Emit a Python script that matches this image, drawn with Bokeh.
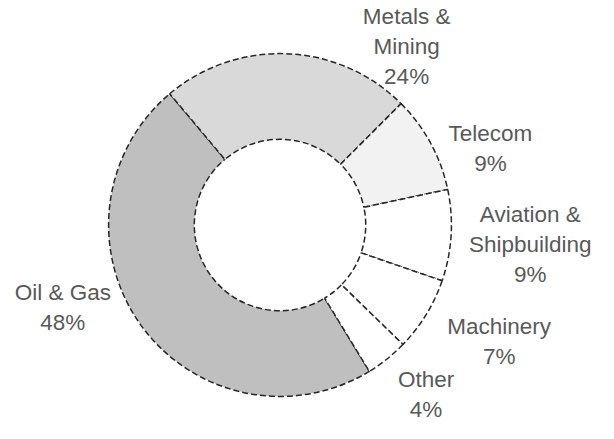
import math
from bokeh.plotting import figure
from bokeh.models import Range1d, ColumnDataSource
from bokeh.core.properties import value
from bokeh.embed import file_html
from bokeh.resources import INLINE

# ---- data ----
categories = ["Oil & Gas", "Metals & Mining", "Telecom", "Aviation & Shipbuilding", "Machinery", "Other"]
label_names = ["Oil & Gas", "Metals &\nMining", "Telecom", "Aviation &\nShipbuilding", "Machinery", "Other"]
shares = [47.6, 23.6, 9.2, 8.6, 7.0, 4.0]
shown_pct = [48, 24, 9, 9, 7, 4]
fills = ["#bfbfbf", "#d9d9d9", "#f2f2f2", "#ffffff", "#ffffff", "#ffffff"]

# ---- layout (reference pixel space: x right, y = 439 - image row) ----
W, H = 598, 423
REF_W, REF_H = 614, 439
cx, cy = 287, REF_H - 233
r_out, r_in = 176, 88
start_deg = -58.6  # first slice starts here, slices run clockwise
# label block centres in reference image pixels
label_pos = [(64, 319), (417, 48), (503, 154), (544, 253), (512, 354), (437, 409)]

total = sum(shares)
starts, ends = [], []
a = math.radians(start_deg)
for s in shares:
    span = 2 * math.pi * s / total
    starts.append(a)
    ends.append(a - span)
    a -= span

src = ColumnDataSource(dict(
    cat=categories, start=starts, end=ends, fill=fills,
    x=[cx] * len(shares), y=[cy] * len(shares),
))

p = figure(width=W, height=H, output_backend="svg", toolbar_location=None,
           x_range=Range1d(0, REF_W), y_range=Range1d(0, REF_H),
           min_border=0)
p.axis.visible = False
p.grid.visible = False
p.outline_line_color = None
p.background_fill_color = "white"

p.annular_wedge(x="x", y="y", inner_radius=r_in, outer_radius=r_out,
                start_angle="start", end_angle="end", direction="clock",
                fill_color="fill", line_color="#262626", line_width=1.5,
                line_dash="6 3", source=src)

texts = [f"{n}\n{v}%" for n, v in zip(label_names, shown_pct)]
lsrc = ColumnDataSource(dict(
    x=[q[0] for q in label_pos], y=[REF_H - q[1] for q in label_pos], t=texts))
p.text(x="x", y="y", text="t", source=lsrc, text_align="center",
       text_baseline="middle", text_font=value("Liberation Sans"),
       text_font_size="22.5px", text_color="#595959", text_line_height=1.2)

open("out.html", "w").write(file_html(p, INLINE))
